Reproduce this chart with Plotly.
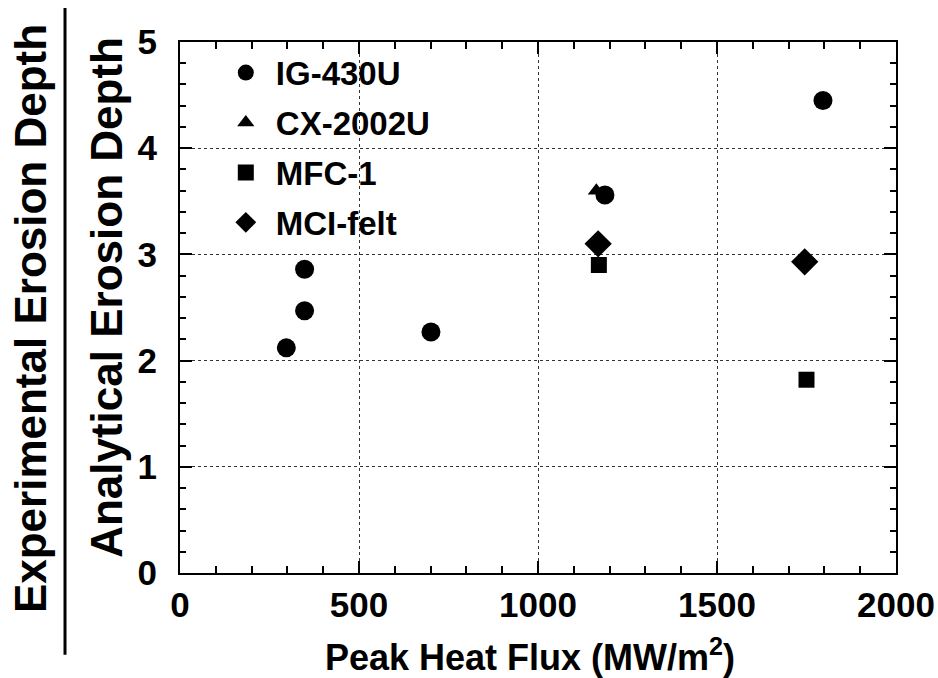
import plotly.graph_objects as go

# ---- data ----
ig_x = [297, 348, 348, 701, 1187, 1796]
ig_y = [2.12, 2.47, 2.86, 2.27, 3.56, 4.45]
cx_x = [1163]
cx_y = [3.60]
mfc_x = [1170, 1750]
mfc_y = [2.90, 1.82]
mci_x = [1168, 1745]
mci_y = [3.10, 2.93]

series_names = ["IG-430U", "CX-2002U", "MFC-1", "MCI-felt"]
x_title = "Peak Heat Flux (MW/m<sup>2</sup>)"
y_title_top = "Experimental Erosion Depth"
y_title_bottom = "Analytical Erosion Depth"

FONT = "Liberation Sans, Arial, Helvetica, sans-serif"
NARROW = "Liberation Sans Narrow, Arial Narrow, Liberation Sans, sans-serif"

fig = go.Figure()
specs = [
    (ig_x, ig_y, "circle", 19),
    (cx_x, cx_y, "triangle-up", 15),
    (mfc_x, mfc_y, "square", 16),
    (mci_x, mci_y, "diamond", 21),
]
for (xs, ys, sym, sz), name in zip(specs, series_names):
    fig.add_trace(go.Scatter(
        x=xs, y=ys, mode="markers", name=name, legendgroup=name,
        marker=dict(symbol=sym, size=sz, color="black", line=dict(width=0)),
    ))

axis_common = dict(
    showline=True, linecolor="black", linewidth=2, mirror="allticks",
    ticks="inside", tickcolor="black", tickwidth=2,
    showgrid=True, gridcolor="#333333", gridwidth=1, griddash="dot",
    zeroline=False, automargin=False,
    tickfont=dict(family=NARROW, size=35, color="black", weight="bold"),
)

fig.update_xaxes(
    range=[0, 2000], tickvals=[0, 500, 1000, 1500, 2000], ticklen=12,
    minor=dict(dtick=100, ticks="inside", ticklen=7, tickcolor="black", tickwidth=2, showgrid=False),
    **axis_common,
)
fig.update_yaxes(
    range=[0, 5], tickvals=[0, 1, 2, 3, 4, 5], ticklen=12,
    minor=dict(dtick=0.2, ticks="inside", ticklen=6, tickcolor="black", tickwidth=2, showgrid=False),
    ticklabelstandoff=14,
    **axis_common,
)

fig.add_annotation(
    text=x_title, xref="paper", yref="paper", x=0.489, y=-0.155,
    showarrow=False, font=dict(family=FONT, size=36, color="black", weight="bold"),
    xanchor="center", yanchor="middle",
)
fig.add_annotation(
    text=y_title_bottom, xref="paper", yref="paper", x=-0.102, y=0.52,
    showarrow=False, textangle=-90,
    font=dict(family=FONT, size=44, color="black", weight="bold"),
    xanchor="center", yanchor="middle",
)
fig.add_annotation(
    text=y_title_top, xref="paper", yref="paper", x=-0.2095, y=0.48,
    showarrow=False, textangle=-90,
    font=dict(family=FONT, size=44, color="black", weight="bold"),
    xanchor="center", yanchor="middle",
)
fig.add_shape(
    type="line", xref="paper", yref="paper",
    x0=-0.1606, x1=-0.1606, y0=1.064, y1=-0.154,
    line=dict(color="black", width=3),
)

fig.update_layout(
    width=938, height=678,
    margin=dict(l=180, r=42, t=42, b=105),
    paper_bgcolor="white", plot_bgcolor="white",
    showlegend=True,
    legend=dict(
        x=0.05, y=0.995, xanchor="left", yanchor="top",
        bgcolor="rgba(0,0,0,0)", borderwidth=0,
        font=dict(family=NARROW, size=33, color="black", weight="bold"),
        itemwidth=50, tracegroupgap=4,
    ),
)

fig.write_html("out.html")
